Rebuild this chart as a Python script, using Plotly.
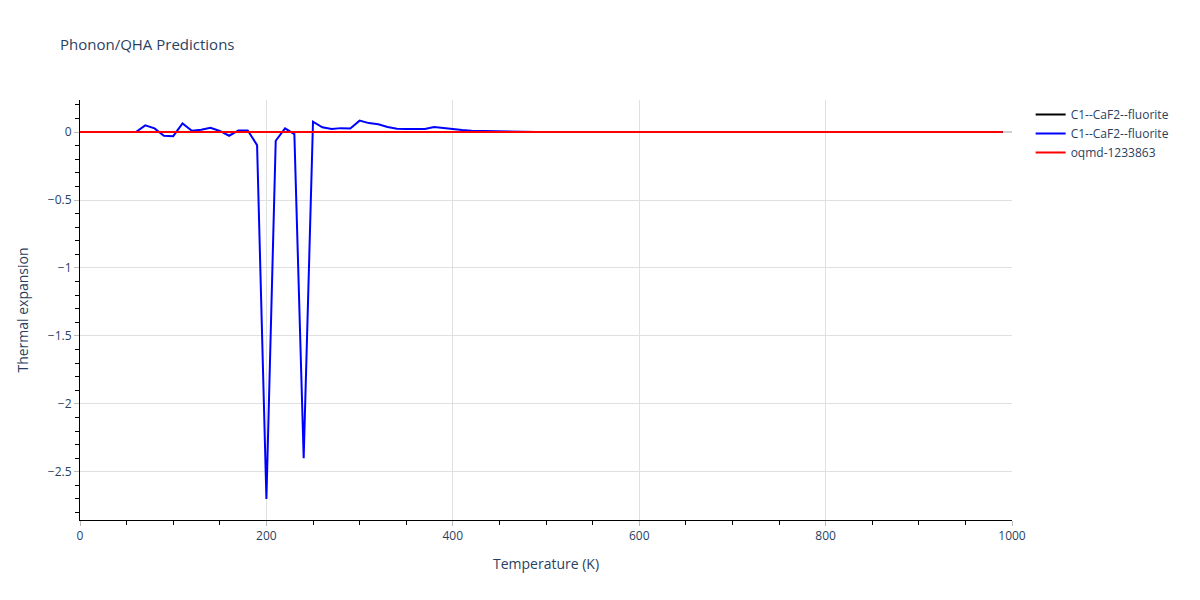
import plotly.graph_objects as go

temperature = list(range(0, 1000, 10))

blue_head = [0, 0, 0, 0, 0, 0, 0, 0.049, 0.027, -0.027, -0.03, 0.064, 0.01, 0.017, 0.032,
             0.008, -0.027, 0.012, 0.012, -0.096, -2.70, -0.064, 0.027, -0.015, -2.40,
             0.076, 0.035, 0.022, 0.029, 0.027, 0.084, 0.066, 0.057, 0.037, 0.025, 0.022,
             0.022, 0.022, 0.037, 0.029, 0.02, 0.015, 0.01, 0.008, 0.006, 0.004, 0.003,
             0.002, 0.001]
blue_values = blue_head + [0.0] * (len(temperature) - len(blue_head))
black_values = [0.0] * len(temperature)
red_values = [0.0] * len(temperature)

series_names = ["C1--CaF2--fluorite", "C1--CaF2--fluorite", "oqmd-1233863"]
series_colors = ["black", "blue", "red"]

text_color = "#2a3f5f"

fig = go.Figure()
for name, vals, color in zip(series_names, [black_values, blue_values, red_values], series_colors):
    fig.add_trace(go.Scatter(x=temperature, y=vals, mode="lines", name=name,
                             line=dict(color=color, width=2)))

axis_common = dict(showline=True, linecolor="black", linewidth=1, ticks="outside",
                   tickcolor="#bbbbbb", ticklen=5, showgrid=True, gridcolor="#e0e0e0",
                   tickfont=dict(color=text_color),
                   title_font=dict(color=text_color))

fig.update_layout(
    title=dict(text="Phonon/QHA Predictions", x=0.0439, xref="container",
               y=0.9366, yref="container", yanchor="middle",
               font=dict(color=text_color, size=15)),
    plot_bgcolor="white", paper_bgcolor="white",
    margin=dict(l=72, r=180, t=92, b=72, autoexpand=False),
    font=dict(family="Open Sans, Arial", color=text_color),
    xaxis=dict(title_text="Temperature (K)", range=[0, 1000], dtick=200, zeroline=False,
               minor=dict(ticks="outside", dtick=50, ticklen=4, tickcolor="black", showgrid=False),
               **axis_common),
    yaxis=dict(title_text="Thermal expansion", range=[-2.855, 0.236], dtick=0.5,
               zeroline=True, zerolinecolor="#d0d0d0", zerolinewidth=2,
               minor=dict(ticks="outside", dtick=0.1, ticklen=4, tickcolor="black", showgrid=False),
               **axis_common),
    legend=dict(font=dict(color=text_color)),
)

fig.write_html("out.html")
